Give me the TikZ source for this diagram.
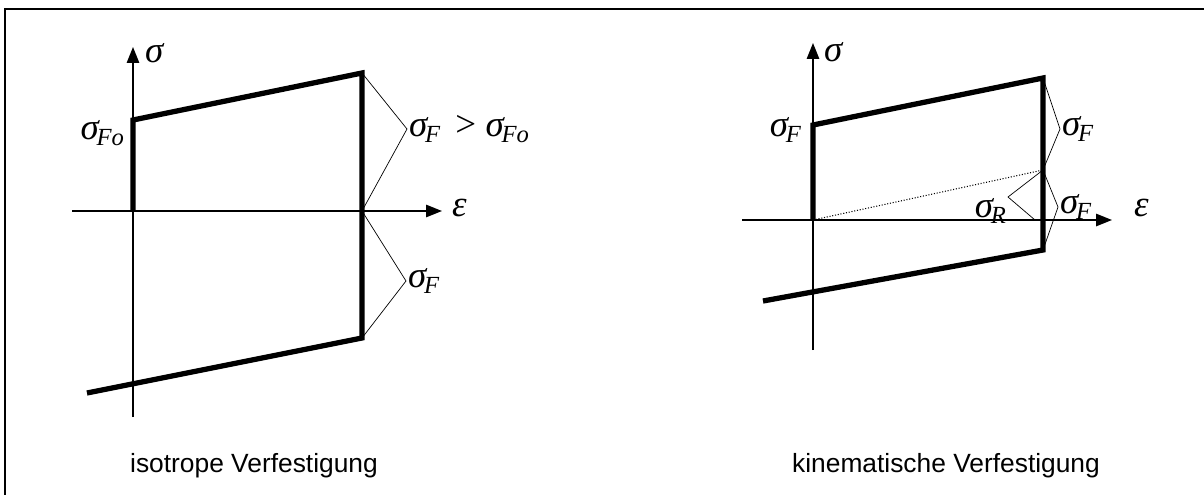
\documentclass[tikz,border=0pt]{standalone}
\usepackage{fontspec}
\setmainfont{Liberation Sans}
\newfontfamily\tnr{Liberation Serif}
\usetikzlibrary{arrows.meta}
\newcommand{\sig}[1]{{\tnr\itshape σ\kern-0.06em\raisebox{-0.35ex}{\fontsize{14}{14}\selectfont #1}}}
\begin{document}
\begin{tikzpicture}[x=0.02cm,y=-0.02cm,
axis/.style={line width=0.9pt,-{Triangle[length=9pt,width=7pt]}},
curve/.style={line width=3pt,line join=miter},
brace/.style={line width=0.4pt},
dots/.style={line width=0.6pt,densely dotted},
lbl/.style={inner sep=1pt,font=\tnr\itshape\fontsize{21}{21}\selectfont},
caption/.style={inner sep=0pt,font=\fontsize{15}{15}\selectfont}
]
\useasboundingbox (0,0) rectangle (1204,494);
\clip (0,0) rectangle (1204,494);
\draw[line width=0.8pt] (5,9) rectangle (1215,505);

% isotrope Verfestigung
\coordinate (sb1) at (133,417);
\coordinate (st1) at (133,47);
\coordinate (el1) at (72,211);
\coordinate (er1) at (442,211);
\coordinate (o1) at (133,211);
\coordinate (p1) at (133,120);
\coordinate (q1) at (362,73);
\coordinate (r1) at (362,211);
\coordinate (s1) at (362,338);
\coordinate (t1) at (87,393);
\coordinate (u1) at (407,129);
\coordinate (v1) at (406,281);

\draw[axis] (sb1) -- (st1);
\draw[axis] (el1) -- (er1);
\draw[curve] (o1) -- (p1) -- (q1) -- (s1) -- (t1);
\draw[brace] (q1) -- (u1) -- (r1) -- (v1) -- (s1);

\node[lbl,anchor=west] (sig1) at (143,53) {σ};
\node[lbl,anchor=west] (eps1) at (450,208) {ε};
\node[lbl,anchor=east] (sfo) at (126,133) {\sig{Fo}};
\node[lbl,anchor=west] (sfg) at (u1) {\sig{F}\,\upshape\ >\ \sig{Fo}};
\node[lbl,anchor=west] (sf1) at (v1) {\sig{F}};
\node[caption] (cap1) at (254,466) {isotrope Verfestigung};

% kinematische Verfestigung
\coordinate (sb2) at (813,350);
\coordinate (st2) at (813,43);
\coordinate (el2) at (742,220);
\coordinate (er2) at (1112,220);
\coordinate (o2) at (813,220);
\coordinate (p2) at (813,125);
\coordinate (q2) at (1043,78);
\coordinate (m2) at (1043,170);
\coordinate (s2) at (1043,250);
\coordinate (t2) at (763,301);
\coordinate (u2) at (1060,129);
\coordinate (v2) at (1058,207);
\coordinate (w2) at (1008,197);
\coordinate (z2) at (1035,220);

\draw[axis] (sb2) -- (st2);
\draw[axis] (el2) -- (er2);
\draw[dots] (o2) -- (m2);
\draw[curve] (o2) -- (p2) -- (q2) -- (s2) -- (t2);
\draw[brace] (q2) -- (u2) -- (m2) -- (v2) -- (s2);
\draw[brace] (m2) -- (w2) -- (z2);

\node[lbl,anchor=west] (sig2) at (822,52) {σ};
\node[lbl,anchor=west] (eps2) at (1132,208) {ε};
\node[lbl,anchor=east] (sfl) at (803,130) {\sig{F}};
\node[lbl,anchor=west] (sfu) at (u2) {\sig{F}};
\node[lbl,anchor=west] (sfd) at (v2) {\sig{F}};
\node[lbl,anchor=east] (sr) at (1008,211) {\sig{R}};
\node[caption] (cap2) at (946,466) {kinematische Verfestigung};
\end{tikzpicture}
\end{document}
